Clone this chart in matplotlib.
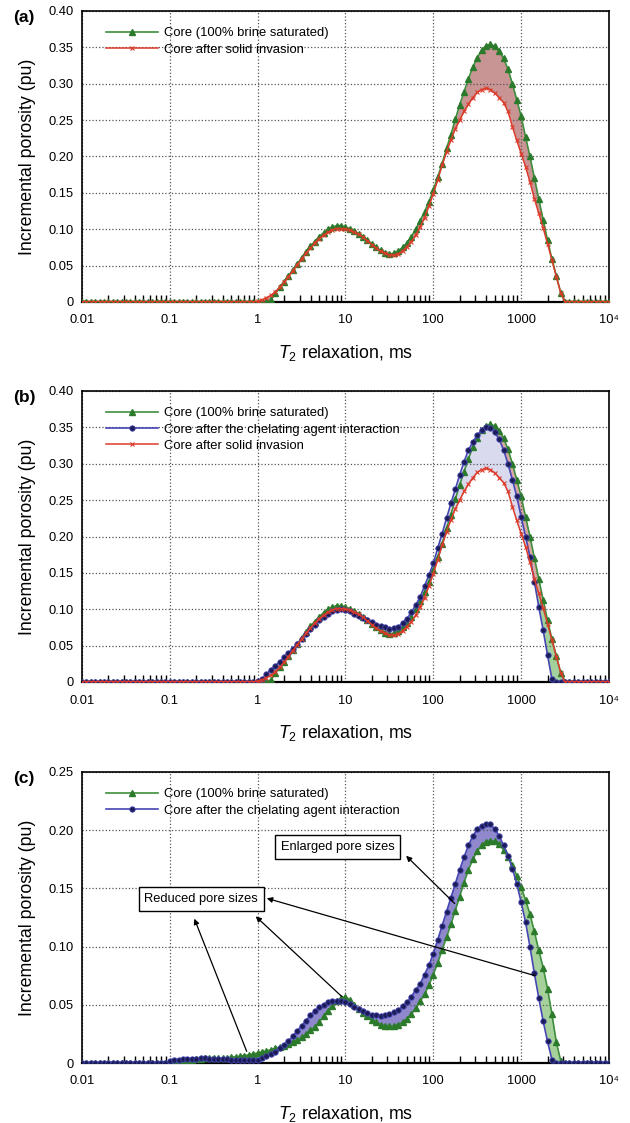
import matplotlib.pyplot as plt
import numpy as np
from matplotlib.ticker import LogLocator, NullFormatter, FixedLocator

plt.rcParams['font.family'] = ['Liberation Sans', 'DejaVu Sans']
plt.rcParams['mathtext.fontset'] = 'custom'
plt.rcParams['mathtext.rm'] = 'Liberation Sans'
plt.rcParams['mathtext.it'] = 'Liberation Sans:italic'

# Rejilla de tiempos T2 (20 puntos por decada, 0.01 a 10^4 ms)
t2_ms = np.logspace(-2, 4, 121)

# Paneles (a) y (b)
saturado = [0] * 40 + [
    0, 0, 0, 0.003, 0.012, 0.020, 0.028, 0.036, 0.044, 0.052,
    0.061, 0.069, 0.077, 0.083, 0.090, 0.095, 0.100, 0.103, 0.105, 0.105,
    0.103, 0.101, 0.098, 0.094, 0.090, 0.085, 0.080, 0.075, 0.071, 0.068,
    0.066, 0.067, 0.070, 0.075, 0.081, 0.090, 0.100, 0.112, 0.124, 0.138,
    0.154, 0.172, 0.190, 0.211, 0.230, 0.251, 0.271, 0.289, 0.307, 0.323,
    0.336, 0.346, 0.352, 0.354, 0.352, 0.345, 0.335, 0.320, 0.300, 0.278,
    0.255, 0.227, 0.200, 0.171, 0.142, 0.113, 0.085, 0.059, 0.036, 0.013,
] + [0] * 11

invasion = [0] * 40 + [
    0.001, 0.003, 0.006, 0.009, 0.014, 0.020, 0.027, 0.035, 0.043, 0.051,
    0.059, 0.067, 0.074, 0.081, 0.087, 0.092, 0.096, 0.099, 0.101, 0.101,
    0.100, 0.099, 0.096, 0.093, 0.089, 0.084, 0.079, 0.074, 0.070, 0.067,
    0.065, 0.064, 0.066, 0.070, 0.076, 0.083, 0.092, 0.103, 0.116, 0.132,
    0.149, 0.168, 0.188, 0.206, 0.223, 0.238, 0.250, 0.262, 0.272, 0.281,
    0.288, 0.292, 0.2935, 0.292, 0.287, 0.281, 0.274, 0.262, 0.241, 0.222,
    0.204, 0.186, 0.165, 0.142, 0.122, 0.102, 0.080, 0.058, 0.035, 0.013,
] + [0] * 11

quelante = [0] * 40 + [
    0.001, 0.004, 0.011, 0.017, 0.022, 0.028, 0.034, 0.040, 0.046, 0.052,
    0.059, 0.066, 0.073, 0.079, 0.085, 0.090, 0.094, 0.097, 0.099, 0.100,
    0.099, 0.097, 0.094, 0.091, 0.088, 0.085, 0.082, 0.079, 0.077, 0.075,
    0.0735, 0.074, 0.076, 0.081, 0.087, 0.096, 0.106, 0.117, 0.132, 0.147,
    0.163, 0.184, 0.204, 0.225, 0.2455, 0.265, 0.2845, 0.303, 0.319, 0.330,
    0.3395, 0.346, 0.350, 0.349, 0.343, 0.3335, 0.319, 0.300, 0.278, 0.255,
    0.227, 0.200, 0.172, 0.138, 0.1035, 0.0715, 0.037, 0.004, 0, 0,
] + [0] * 11

# Panel (c)
saturado_c = [0] * 20 + [
    0.001, 0.0015, 0.002, 0.0025, 0.003, 0.003, 0.0035, 0.0035, 0.004, 0.004,
    0.004, 0.0042, 0.0044, 0.0046, 0.005, 0.0053, 0.0057, 0.0064, 0.007, 0.0078,
    0.0086, 0.0094, 0.0103, 0.0115, 0.0125, 0.0136, 0.015, 0.0165, 0.018, 0.020,
    0.022, 0.0245, 0.028, 0.031, 0.035, 0.040, 0.045, 0.049, 0.053, 0.056,
    0.057, 0.054, 0.050, 0.046, 0.043, 0.040, 0.037, 0.035, 0.033, 0.032,
    0.0315, 0.032, 0.033, 0.035, 0.038, 0.042, 0.047, 0.053, 0.059, 0.067,
    0.076, 0.086, 0.097, 0.108, 0.119, 0.131, 0.143, 0.155, 0.166, 0.175,
    0.182, 0.187, 0.190, 0.191, 0.1905, 0.188, 0.183, 0.177, 0.170, 0.161,
    0.151, 0.140, 0.128, 0.113, 0.097, 0.082, 0.064, 0.042, 0.018, 0.002,
] + [0] * 11

quelante_c = [0] * 20 + [
    0.002, 0.0024, 0.0028, 0.0031, 0.0034, 0.0036, 0.0038, 0.0039, 0.0039, 0.0038,
    0.0037, 0.0036, 0.0034, 0.0032, 0.003, 0.0028, 0.0026, 0.0025, 0.0025, 0.0027,
    0.003, 0.0042, 0.0057, 0.0075, 0.0098, 0.0125, 0.0155, 0.019, 0.023, 0.0275,
    0.032, 0.0365, 0.041, 0.0445, 0.048, 0.050, 0.052, 0.053, 0.0532, 0.053,
    0.052, 0.0505, 0.0485, 0.0465, 0.0445, 0.043, 0.0415, 0.041, 0.0405, 0.041,
    0.042, 0.0435, 0.0455, 0.049, 0.052, 0.057, 0.063, 0.068, 0.076, 0.084,
    0.094, 0.106, 0.118, 0.130, 0.142, 0.154, 0.166, 0.177, 0.187, 0.195,
    0.201, 0.204, 0.2055, 0.205, 0.201, 0.195, 0.187, 0.178, 0.167, 0.154,
    0.138, 0.121, 0.100, 0.077, 0.056, 0.036, 0.0185, 0.003, 0, 0,
] + [0] * 11

x_ticks = [0.01, 0.1, 1, 10, 100, 1000, 1e4]
x_labels = ['0.01', '0.1', '1', '10', '100', '1000', '10\u2074']

VERDE, VERDE_M = '#3d8f3d', '#2c7a2c'
ROJO = '#dc3b2a'
AZUL, AZUL_M = '#4646b4', '#1b1b55'

estilo_sat = dict(color=VERDE, lw=1.2, marker='^', ms=3.8, mfc=VERDE_M, mec=VERDE_M,
                  label='Core (100% brine saturated)')
estilo_que = dict(color=AZUL, lw=1.2, marker='o', ms=3.9, mfc=AZUL_M, mec=AZUL,
                  mew=0.6, label='Core after the chelating agent interaction')
estilo_inv = dict(color=ROJO, lw=1.1, marker='x', ms=3.0, mew=0.8,
                  label='Core after solid invasion')


def preparar_ejes(ax, ymax, letra):
    ax.set_xscale('log')
    ax.set_xlim(0.01, 1e4)
    ax.set_ylim(0, ymax)
    yt = np.round(np.arange(0, ymax + 1e-9, 0.05), 2)
    ax.set_yticks(yt)
    ax.set_yticklabels(['0'] + [f'{v:.2f}' for v in yt[1:]])
    ax.xaxis.set_major_locator(FixedLocator(x_ticks))
    ax.set_xticklabels(x_labels)
    ax.xaxis.set_minor_locator(LogLocator(base=10, subs=np.arange(2, 10)))
    ax.xaxis.set_minor_formatter(NullFormatter())
    ax.tick_params(axis='x', which='minor', direction='in', length=5, width=1.0)
    ax.tick_params(axis='x', which='major', direction='in', length=0, labelsize=9.3, pad=9)
    ax.tick_params(axis='y', which='both', length=0, labelsize=9.3, pad=6)
    ax.grid(True, which='major', linestyle=':', color='#555555', linewidth=0.9)
    for s in ax.spines.values():
        s.set_linewidth(1.2)
    ax.spines['bottom'].set_linewidth(1.6)
    ax.set_ylabel('Incremental porosity (pu)', fontsize=12.8, labelpad=9)
    ax.set_xlabel('$\\mathit{T}_2$ relaxation, ms', fontsize=12.8, labelpad=12)
    pos = ax.get_position()
    ax.figure.text(0.038, pos.y1 - 0.006, letra, fontsize=12.5, fontweight='bold',
                   ha='center', va='center')


def leyenda(ax):
    ax.legend(loc='upper left', bbox_to_anchor=(0.045, 0.945), frameon=False,
              fontsize=9.4, handlelength=4.0, handletextpad=0.46, labelspacing=0.33,
              borderpad=0, borderaxespad=0)


fig = plt.figure(figsize=(6.3, 11.23), dpi=100)
izq, ancho, alto = 82 / 630, 527 / 630, 291 / 1123
ax_a = fig.add_axes([izq, 1 - 302 / 1123, ancho, alto])
ax_b = fig.add_axes([izq, 1 - 682 / 1123, ancho, alto])
ax_c = fig.add_axes([izq, 1 - 1063 / 1123, ancho, alto])

sat = np.array(saturado)
inv = np.array(invasion)
que = np.array(quelante)
sat_c = np.array(saturado_c)
que_c = np.array(quelante_c)

# (a)
preparar_ejes(ax_a, 0.40, '(a)')
ax_a.fill_between(t2_ms, inv, sat, color='#c99494', lw=0, zorder=1)
ax_a.plot(t2_ms, sat, zorder=3, **estilo_sat)
ax_a.plot(t2_ms, inv, zorder=4, **estilo_inv)
leyenda(ax_a)

# (b)
preparar_ejes(ax_b, 0.40, '(b)')
ax_b.fill_between(t2_ms, que, inv, where=inv > que, interpolate=True,
                  color='#a3d09c', lw=0, zorder=1)
ax_b.fill_between(t2_ms, inv, sat, where=sat > inv, interpolate=True,
                  color='#d9a9a4', lw=0, zorder=1.1)
ax_b.fill_between(t2_ms, inv, que, where=que > inv, interpolate=True,
                  color='#dadaee', lw=0, zorder=1.2)
ax_b.plot(t2_ms, sat, zorder=3, **estilo_sat)
ax_b.plot(t2_ms, que, zorder=4, **estilo_que)
ax_b.plot(t2_ms, inv, zorder=5, **estilo_inv)
leyenda(ax_b)

# (c)
preparar_ejes(ax_c, 0.25, '(c)')
derecha = t2_ms > 300
ax_c.fill_between(t2_ms, sat_c, que_c, where=~derecha | (que_c >= sat_c),
                  interpolate=True, color='#8f88cc', lw=0, zorder=1)
ax_c.fill_between(t2_ms, que_c, sat_c, where=derecha & (sat_c >= que_c),
                  interpolate=True, color='#a6d19a', lw=0, zorder=1)
ax_c.plot(t2_ms, sat_c, zorder=3, **estilo_sat)
ax_c.plot(t2_ms, que_c, zorder=4, **estilo_que)
leyenda(ax_c)

caja = dict(boxstyle='square,pad=0.45', fc='white', ec='black', lw=1.0)
ax_c.text(8.1, 0.1855, 'Enlarged pore sizes', fontsize=9.3, ha='center', va='center',
          bbox=caja, zorder=6)
ax_c.text(0.228, 0.141, 'Reduced pore sizes', fontsize=9.3, ha='center', va='center',
          bbox=caja, zorder=6)
flecha = dict(arrowstyle='-|>', color='black', lw=0.9, mutation_scale=8,
              shrinkA=0, shrinkB=0)
for cabeza, cola in [((49, 0.178), (175, 0.137)),
                     ((1.27, 0.1415), (1440, 0.075)),
                     ((0.95, 0.126), (9.1, 0.057)),
                     ((0.19, 0.124), (0.75, 0.010))]:
    ax_c.annotate('', xy=cabeza, xytext=cola, arrowprops=flecha, zorder=7)

fig.savefig('out.png', dpi=100)
